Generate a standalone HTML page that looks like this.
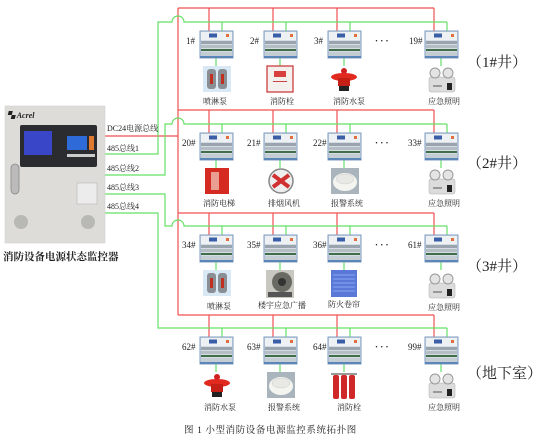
<!DOCTYPE html>
<html><head><meta charset="utf-8"><style>
html,body{margin:0;padding:0;background:#fff}
svg{display:block}
text{font-family:"Liberation Serif","Noto Serif CJK SC",serif;fill:#222}
.s{font-size:8px}
.n{font-size:9px}
</style></head><body>
<svg width="550" height="440" viewBox="0 0 550 440" xmlns="http://www.w3.org/2000/svg">
<defs>
<g id="dev">
<rect x="0" y="0" width="33" height="27" fill="#d6dce4" stroke="#7e9cc0" stroke-width="1"/>
<rect x="1" y="1" width="31" height="8" fill="#eef1f4"/>
<rect x="9" y="2.5" width="8" height="4" fill="#3a5ea8"/>
<rect x="26" y="3" width="3" height="3" fill="#e07040"/>
<rect x="1" y="10" width="31" height="3" fill="#9aa4ae"/>
<rect x="1" y="14" width="31" height="3" fill="#b4bcc4"/>
<rect x="1" y="18" width="31" height="2" fill="#3f6e48"/>
<rect x="1" y="21" width="31" height="5" fill="#c4ccd4"/>
<rect x="0" y="25" width="33" height="2" fill="#5d86b8"/>
</g>
<g id="spr">
<rect x="0" y="0" width="28" height="26" fill="#d8e8f4"/>
<rect x="4" y="3" width="9" height="20" rx="3" fill="#8a8f96"/>
<rect x="15" y="3" width="9" height="20" rx="3" fill="#8a8f96"/>
<rect x="7" y="8" width="3" height="10" fill="#c03020"/>
<rect x="18" y="8" width="3" height="10" fill="#c03020"/>
</g>
<g id="lamp">
<rect x="2" y="11" width="26" height="15" rx="2" fill="#dcdcdc" stroke="#aaa" stroke-width=".5"/>
<circle cx="8" cy="7" r="5" fill="#e4e4e4" stroke="#999" stroke-width="1"/>
<circle cx="21" cy="7" r="5" fill="#e4e4e4" stroke="#999" stroke-width="1"/>
<rect x="20" y="17" width="5" height="7" fill="#222"/>
<rect x="6" y="19" width="9" height="2" fill="#999"/>
</g>
<g id="hyd">
<ellipse cx="14" cy="5" rx="3" ry="3" fill="#d02020"/>
<ellipse cx="14" cy="11" rx="13" ry="4" fill="#e02a20"/>
<rect x="8" y="12" width="12" height="8" fill="#c42018"/>
<rect x="9" y="20" width="10" height="5" fill="#222"/>
</g>
<g id="det">
<rect x="0" y="0" width="28" height="26" fill="#a9b4bc"/>
<ellipse cx="14" cy="14" rx="12" ry="9" fill="#f4f4f0"/>
<ellipse cx="14" cy="11" rx="9" ry="5" fill="#e8e8e4" stroke="#ccc" stroke-width=".5"/>
</g>
</defs>

<g stroke="#f05050" stroke-width="1.2" fill="none">
<path d="M105 136 H178"/>
<path d="M178 8 V315"/>
<path d="M178 8 H434 M178 110 H434 M178 213 H434 M178 315 H434"/>
<path d="M209 8V31 M273 8V31 M337 8V31 M434 8V31"/>
<path d="M209 110V133 M273 110V133 M337 110V133 M434 110V133"/>
<path d="M209 213V235 M273 213V235 M337 213V235 M434 213V235"/>
<path d="M209 315V337 M273 315V337 M337 315V337 M434 315V337"/>
</g>
<g stroke="#66e066" stroke-width="1.2" fill="none">
<path d="M105 154 H158 V22 H172 a6 6 0 0 1 12 0 H447"/>
<path d="M105 175 H165 V124 H172 a6 6 0 0 1 12 0 H447"/>
<path d="M105 194 H165 V226 H172 a6 6 0 0 1 12 0 H447"/>
<path d="M105 213 H158 V328 H447"/>
<path d="M222 22V31 M286 22V31 M350 22V31 M447 22V31"/>
<path d="M222 124V133 M286 124V133 M350 124V133 M447 124V133"/>
<path d="M222 226V235 M286 226V235 M350 226V235 M447 226V235"/>
<path d="M222 328V337 M286 328V337 M350 328V337 M447 328V337"/>
<path d="M216 58V66 M280 58V66 M344 58V66 M441 58V66"/>
<path d="M216 160V168 M280 160V168 M344 160V168 M441 160V168"/>
<path d="M216 262V270 M280 262V270 M344 262V270 M441 262V270"/>
<path d="M216 363V372 M280 363V372 M344 363V372 M441 363V372"/>
</g>

<use href="#dev" x="200" y="31"/><use href="#dev" x="264" y="31"/><use href="#dev" x="328" y="31"/><use href="#dev" x="425" y="31"/>
<use href="#dev" x="200" y="133"/><use href="#dev" x="264" y="133"/><use href="#dev" x="328" y="133"/><use href="#dev" x="425" y="133"/>
<use href="#dev" x="200" y="235"/><use href="#dev" x="264" y="235"/><use href="#dev" x="328" y="235"/><use href="#dev" x="425" y="235"/>
<use href="#dev" x="200" y="337"/><use href="#dev" x="264" y="337"/><use href="#dev" x="328" y="337"/><use href="#dev" x="425" y="337"/>

<g class="n">
<text x="186" y="44">1#</text><text x="250" y="44">2#</text><text x="314" y="44">3#</text><text x="409" y="44">19#</text>
<text x="182" y="146">20#</text><text x="247" y="146">21#</text><text x="313" y="146">22#</text><text x="408" y="146">33#</text>
<text x="182" y="248">34#</text><text x="247" y="248">35#</text><text x="313" y="248">36#</text><text x="408" y="248">61#</text>
<text x="182" y="350">62#</text><text x="247" y="350">63#</text><text x="313" y="350">64#</text><text x="408" y="350">99#</text>
</g>
<g class="n" font-weight="bold">
<text x="375" y="44">· · ·</text><text x="375" y="146">· · ·</text><text x="375" y="248">· · ·</text><text x="375" y="350">· · ·</text>
</g>

<use href="#spr" x="203" y="66"/>
<g transform="translate(267,66)"><rect width="26" height="26" fill="#f4f0ee" stroke="#c83030" stroke-width="1.2"/><rect x="7" y="5" width="12" height="6" fill="#d84040"/><rect x="6" y="15" width="14" height="1" fill="#c44"/></g>
<use href="#hyd" x="330" y="66"/>
<use href="#lamp" x="427" y="66"/>
<g transform="translate(205,168)"><rect width="24" height="26" fill="#d42a22"/><rect x="6" y="4" width="8" height="18" fill="#f4d0c0" opacity=".7"/></g>
<g transform="translate(268,168)"><circle cx="13" cy="13" r="12" fill="#eee" stroke="#888" stroke-width="1.5"/><path d="M5 7 L21 19 M5 19 L21 7" stroke="#d03030" stroke-width="4"/></g>
<use href="#det" x="331" y="168"/>
<use href="#lamp" x="427" y="168"/>
<use href="#spr" x="203" y="270"/>
<g transform="translate(266,270)"><rect width="28" height="28" fill="#c8c8c0"/><circle cx="16" cy="12" r="10" fill="#6a6a64"/><circle cx="16" cy="12" r="4" fill="#333"/><rect x="2" y="22" width="24" height="5" fill="#555"/></g>
<g transform="translate(331,270)"><rect width="26" height="27" fill="#5a78d8"/><g stroke="#8aa6ee" stroke-width="1"><path d="M2 5H24M2 9H24M2 13H24M2 17H24M2 21H24"/></g></g>
<use href="#lamp" x="427" y="272"/>
<use href="#hyd" x="203" y="372"/>
<use href="#det" x="267" y="372"/>
<g transform="translate(330,372)"><rect x="3" y="3" width="6" height="24" rx="2" fill="#d02828"/><rect x="11" y="3" width="6" height="24" rx="2" fill="#d02828"/><rect x="19" y="3" width="6" height="24" rx="2" fill="#d02828"/><rect x="1" y="1" width="26" height="2" fill="#999"/></g>
<use href="#lamp" x="427" y="372"/>

<g class="s">
<text x="203" y="104">喷淋泵</text><text x="270" y="104">消防栓</text><text x="333" y="104">消防水泵</text><text x="428" y="104">应急照明</text>
<text x="203" y="206">消防电梯</text><text x="268" y="206">排烟风机</text><text x="331" y="206">报警系统</text><text x="428" y="206">应急照明</text>
<text x="207" y="309">喷淋泵</text><text x="258" y="308">楼宇应急广播</text><text x="328" y="307">防火卷帘</text><text x="428" y="310">应急照明</text>
<text x="204" y="410">消防水泵</text><text x="268" y="410">报警系统</text><text x="337" y="410">消防栓</text><text x="428" y="410">应急照明</text>
</g>

<g font-size="15">
<text x="467" y="67">（1#井）</text>
<text x="467" y="168">（2#井）</text>
<text x="467" y="271">（3#井）</text>
<text x="467" y="378">（地下室）</text>
</g>

<g class="s">
<text x="107" y="131">DC24电源总线</text>
<text x="107" y="151">485总线1</text>
<text x="107" y="171">485总线2</text>
<text x="107" y="190">485总线3</text>
<text x="107" y="209">485总线4</text>
</g>

<rect x="5" y="106" width="100" height="137" fill="#dddcd8"/>
<rect x="5" y="106" width="100" height="137" fill="none" stroke="#ccc" stroke-width=".5"/>
<text x="7" y="118" font-family="Liberation Sans,sans-serif" font-size="8" font-weight="bold" font-style="italic" fill="#b02020">▚ Acrel</text>
<rect x="20" y="125" width="77" height="42" rx="2" fill="#2a2c30"/>
<rect x="24" y="131" width="28" height="24" fill="#3a46c8"/>
<rect x="67" y="136" width="20" height="14" fill="#2f6bd8"/>
<rect x="89" y="136" width="5" height="14" fill="#e07a30"/>
<rect x="67" y="154" width="28" height="3" fill="#ccc"/>
<rect x="11" y="164" width="8" height="30" rx="4" fill="#bbb" stroke="#888" stroke-width=".8"/>
<rect x="77" y="183" width="20" height="21" fill="#ececec" stroke="#aaa" stroke-width=".5"/>
<circle cx="21" cy="222" r="7" fill="#b8b8b4"/>
<circle cx="88" cy="222" r="7" fill="#b8b8b4"/>
<text x="3" y="260" font-size="10.5" font-weight="bold">消防设备电源状态监控器</text>

<text x="184" y="433" font-family="Liberation Sans,'Noto Sans CJK SC',sans-serif" font-size="9.5" letter-spacing="0.6">图 1  小型消防设备电源监控系统拓扑图</text>
</svg>
</body></html>
